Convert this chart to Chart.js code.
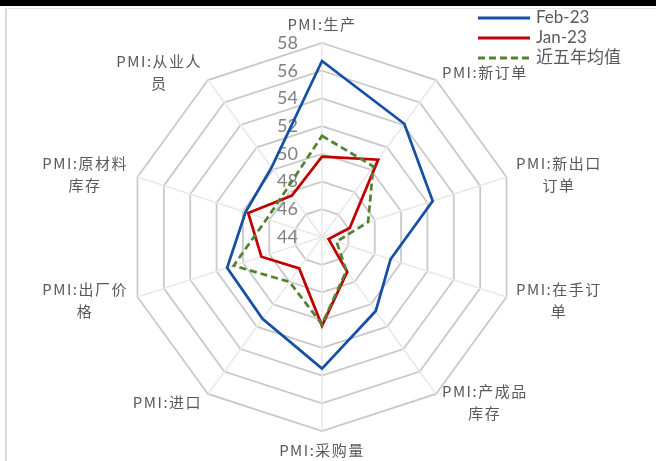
<!DOCTYPE html>
<html>
<head>
<meta charset="utf-8">
<script src="https://cdn.jsdelivr.net/npm/chart.js@4.4.0/dist/chart.umd.min.js"></script>
<style>
  html, body { margin: 0; padding: 0; background: #ffffff; overflow: hidden; }
  #wrap { position: absolute; left: 0; top: 0; width: 656px; height: 461px; }
</style>
</head>
<body>
<div id="wrap"><canvas id="c" width="656" height="461"></canvas></div>
<script>
// Radar axes (each entry is the wrapped label, one string per line)
const categories = [
  ['PMI:生产'],
  ['PMI:新订单'],
  ['PMI:新出口', '订单'],
  ['PMI:在手订', '单'],
  ['PMI:产成品', '库存'],
  ['PMI:采购量'],
  ['PMI:进口'],
  ['PMI:出厂价', '格'],
  ['PMI:原材料', '库存'],
  ['PMI:从业人', '员']
];

// Series
const seriesNames = ['Feb-23', 'Jan-23', '近五年均值'];
const feb23 = [56.7, 54.1, 52.4, 49.2, 50.6, 53.5, 51.3, 51.2, 49.8, 50.2];
const jan23 = [49.8, 50.9, 46.1, 44.5, 47.1, 50.4, 46.8, 48.6, 49.6, 47.7];
const avg5y = [51.3, 50.3, 47.5, 45.1, 47.0, 50.3, 48.0, 50.7, 48.2, 48.3];

// Radial axis ticks
const tickValues = [44, 46, 48, 50, 52, 54, 56, 58];

const CENTER_X = 322;
const CENTER_Y = 237;
const RADIUS = 194;

const TEXT_GREY = '#595959';
const CJK_FONT = '"Noto Sans CJK SC", "Noto Sans", sans-serif';
const NUM_FONT = 'Lato, "Noto Sans CJK SC", sans-serif';

// Page frame: black band on top, light border on the left/top of the plot
const framePlugin = {
  id: 'frame',
  beforeDraw(chart) {
    const ctx = chart.ctx;
    ctx.save();
    ctx.fillStyle = '#000000';
    ctx.fillRect(0, 0, chart.width, 6);
    ctx.strokeStyle = '#d9d9d9';
    ctx.lineWidth = 2;
    ctx.beginPath();
    ctx.moveTo(6, chart.height);
    ctx.lineTo(6, 8);
    ctx.stroke();
    ctx.lineWidth = 1;
    ctx.strokeStyle = '#e6e6e6';
    ctx.beginPath();
    ctx.moveTo(6, 8.5);
    ctx.lineTo(chart.width, 8.5);
    ctx.stroke();
    ctx.restore();
  }
};

// Tick values written to the left of the vertical axis
const tickPlugin = {
  id: 'radialTicks',
  beforeDatasetsDraw(chart) {
    const scale = chart.scales.r;
    const ctx = chart.ctx;
    ctx.save();
    ctx.font = '18px ' + NUM_FONT;
    ctx.fillStyle = '#808080';
    ctx.textAlign = 'right';
    ctx.textBaseline = 'middle';
    tickValues.forEach(v => {
      const y = scale.yCenter - scale.getDistanceFromCenterForValue(v);
      ctx.fillText(String(v), scale.xCenter - 24, y);
    });
    ctx.restore();
  }
};

// Axis names around the polygon, lines centred inside each block
const pointLabelPlugin = {
  id: 'axisNames',
  afterDraw(chart) {
    const scale = chart.scales.r;
    const ctx = chart.ctx;
    const labels = chart.data.labels;
    const n = labels.length;
    const lineH = 22;
    ctx.save();
    ctx.font = '15px ' + CJK_FONT;
    try { ctx.letterSpacing = '1.5px'; } catch (e) {}
    ctx.fillStyle = TEXT_GREY;
    ctx.textBaseline = 'middle';
    ctx.textAlign = 'center';
    labels.forEach((lines, i) => {
      const p = scale.getPointPosition(i, scale.drawingArea + 10);
      const w = Math.max(...lines.map(s => ctx.measureText(s).width));
      const h = lines.length * lineH;
      let cx, top;
      if (i === 0) {
        cx = p.x; top = p.y - h + 2;
      } else if (i === n / 2) {
        cx = p.x; top = p.y - 2;
      } else if (i < n / 2) {
        cx = p.x + w / 2; top = p.y - h / 2;
      } else {
        cx = p.x - w / 2; top = p.y - h / 2;
      }
      lines.forEach((s, k) => {
        ctx.fillText(s, cx, top + lineH * k + lineH / 2);
      });
    });
    ctx.restore();
  }
};

// Legend in the top-right corner
const legendPlugin = {
  id: 'cornerLegend',
  afterDraw(chart) {
    const ctx = chart.ctx;
    ctx.save();
    ctx.font = '17px ' + NUM_FONT;
    ctx.fillStyle = TEXT_GREY;
    ctx.textAlign = 'left';
    ctx.textBaseline = 'middle';
    chart.data.datasets.forEach((ds, i) => {
      const y = 18 + i * 20;
      ctx.strokeStyle = ds.borderColor;
      ctx.lineWidth = 3;
      ctx.setLineDash(ds.borderDash || []);
      ctx.beginPath();
      ctx.moveTo(478, y);
      ctx.lineTo(530, y);
      ctx.stroke();
      ctx.setLineDash([]);
      ctx.fillText(ds.label, 536, y);
    });
    ctx.restore();
  }
};

new Chart(document.getElementById('c'), {
  type: 'radar',
  data: {
    labels: categories,
    datasets: [
      {
        label: seriesNames[0],
        data: feb23,
        borderColor: '#1550a3',
        borderWidth: 2.75,
        fill: false,
        pointRadius: 0,
        order: 2
      },
      {
        label: seriesNames[1],
        data: jan23,
        borderColor: '#c00000',
        borderWidth: 2.75,
        fill: false,
        pointRadius: 0,
        order: 1
      },
      {
        label: seriesNames[2],
        data: avg5y,
        borderColor: '#548235',
        borderWidth: 2.75,
        borderDash: [7, 4],
        fill: false,
        pointRadius: 0,
        order: 0
      }
    ]
  },
  options: {
    responsive: false,
    animation: false,
    devicePixelRatio: 1,
    layout: { padding: 0 },
    elements: { line: { tension: 0 } },
    plugins: {
      legend: { display: false },
      tooltip: { enabled: false }
    },
    scales: {
      r: {
        min: 44,
        max: 58,
        ticks: { stepSize: 2, display: false },
        grid: { circular: false, color: '#c8c8c8', lineWidth: 1.75 },
        angleLines: { color: '#e8e8e8', lineWidth: 1.5 },
        pointLabels: { display: false },
        afterFit(scale) {
          scale.xCenter = CENTER_X;
          scale.yCenter = CENTER_Y;
          scale.drawingArea = RADIUS;
        }
      }
    }
  },
  plugins: [framePlugin, tickPlugin, pointLabelPlugin, legendPlugin]
});
</script>
</body>
</html>
